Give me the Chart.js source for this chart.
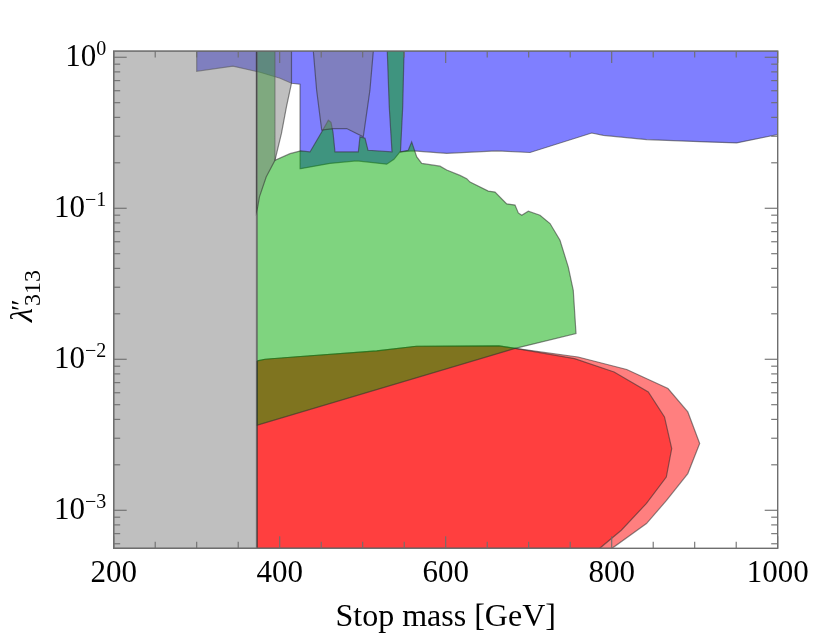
<!DOCTYPE html>
<html>
<head>
<meta charset="utf-8">
<script src="https://cdn.jsdelivr.net/npm/chart.js@4.4.1/dist/chart.umd.min.js"></script>
<style>
  html, body { margin: 0; padding: 0; background: #fff; }
  canvas { display: block; }
</style>
</head>
<body>
<canvas id="chart" width="830" height="641"></canvas>
<script>
// axis ranges and ticks
const massRange = [200, 1000];
const lambdaRange = [5.6e-4, 1.1];
const massTicks = [200, 400, 600, 800, 1000];
const lambdaTickExps = [0, -1, -2, -3];

// regions: stop mass [GeV] vs lambda''_313
const blueMass   = [300, 1000, 1000, 950.6, 914.4, 842.2, 789.9, 775.9, 701.6, 661.4, 601.2, 561.0, 544.9, 537.7, 528.9, 492.8, 460.6, 425.3, 424.5, 414.2, 400.4, 376.3, 343.7, 300, 300];
const blueLambda = [1.1, 1.1, 0.308, 0.271, 0.275, 0.285, 0.304, 0.315, 0.234, 0.240, 0.231, 0.240, 0.236, 0.211, 0.196, 0.206, 0.198, 0.183, 0.663, 0.673, 0.726, 0.796, 0.872, 0.808, 1.1];

const greenMass   = [373, 394.3, 394.3, 412.4, 425.3, 436.5, 450.6, 458.6, 461.8, 464.2, 466.6, 494.7, 496.7, 502.8, 506.4, 535.3, 532.0, 529.6, 549.8, 548.2, 545.5, 554.9, 559.0, 565.1, 571.1, 593.1, 601.2, 617.2, 625.3, 629.3, 651.3, 659.4, 673.5, 683.5, 687.5, 691.6, 699.5, 713.6, 725.7, 737.7, 747.7, 753.7, 757.0, 683.7, 373, 373];
const greenLambda = [1.1, 1.1, 0.208, 0.230, 0.240, 0.236, 0.320, 0.383, 0.371, 0.319, 0.236, 0.236, 0.297, 0.291, 0.242, 0.236, 0.469, 1.1, 1.1, 0.469, 0.236, 0.242, 0.275, 0.219, 0.198, 0.190, 0.179, 0.165, 0.157, 0.149, 0.130, 0.128, 0.107, 0.105, 0.0931, 0.0899, 0.0955, 0.0899, 0.0792, 0.0614, 0.0408, 0.0286, 0.0148, 0.0118, 0.00366, 1.1];

const redOuterMass   = [373, 382.5, 417.2, 516.9, 564.6, 664.2, 683.7, 759.5, 818.1, 867.8, 891.7, 906.0, 891.7, 865.8, 841.9, 800.4, 373, 373];
const redOuterLambda = [0.00975, 0.0100, 0.01035, 0.01135, 0.0122, 0.01225, 0.0118, 0.01035, 0.00855, 0.0064, 0.00448, 0.00277, 0.00175, 0.00116, 0.000817, 5.6e-4, 5.6e-4, 0.00975];

const redInnerMass   = [373, 382.5, 417.2, 516.9, 564.6, 664.2, 683.7, 755.2, 802.9, 844.1, 863.6, 872.3, 865.8, 841.9, 811.6, 785.5, 373, 373];
const redInnerLambda = [0.00975, 0.0100, 0.01035, 0.01135, 0.0122, 0.01225, 0.0118, 0.0101, 0.00824, 0.00607, 0.00415, 0.00256, 0.00166, 0.00111, 0.000738, 5.6e-4, 5.6e-4, 0.00975];

const grayMass   = [200, 372, 372, 200, 200];
const grayLambda = [1.1, 1.1, 5.6e-4, 5.6e-4, 1.1];

const graySliverMass   = [372, 414.2, 414.2, 408.1, 402.1, 394.3, 383.7, 375.6, 373.5, 372, 372];
const graySliverLambda = [1.1, 1.1, 0.673, 0.469, 0.313, 0.208, 0.161, 0.119, 0.102, 0.095, 1.1];

const grayUMass   = [440.5, 444.5, 450.6, 464.6, 480.7, 500.7, 508.7, 512.8, 440.5];
const grayULambda = [1.1, 0.605, 0.329, 0.337, 0.337, 0.297, 0.605, 1.1, 1.1];

const SERIF = '"Liberation Serif", "DejaVu Serif", serif';
const EDGE = 'rgba(45,45,45,0.55)';

function region(xs, ys, fillColor) {
    return {
        data: xs.map((m, i) => ({ x: m, y: ys[i] })),
        showLine: true,
        fill: 'shape',
        backgroundColor: fillColor,
        borderColor: EDGE,
        borderWidth: 1.2,
        pointRadius: 0,
        tension: 0
    };
}

// first dataset is drawn on top
const datasets = [
    region(grayUMass, grayULambda, 'rgba(128,128,128,0.5)'),
    region(graySliverMass, graySliverLambda, 'rgba(128,128,128,0.5)'),
    region(grayMass, grayLambda, 'rgba(128,128,128,0.5)'),
    region(greenMass, greenLambda, 'rgba(0,170,0,0.5)'),
    region(redInnerMass, redInnerLambda, 'rgba(255,0,0,0.5)'),
    region(redOuterMass, redOuterLambda, 'rgba(255,0,0,0.5)'),
    region(blueMass, blueLambda, 'rgba(0,0,255,0.5)')
];

function seg(ctx, x1, y1, x2, y2) {
    ctx.beginPath();
    ctx.moveTo(x1, y1);
    ctx.lineTo(x2, y2);
    ctx.stroke();
}

const framePlugin = {
    id: 'frame',
    afterDraw(chart) {
        const { ctx, chartArea: a } = chart;
        const xs = chart.scales.x, ys = chart.scales.y;
        ctx.save();
        ctx.strokeStyle = '#6e6e6e';
        ctx.lineWidth = 1.4;
        ctx.strokeRect(a.left, a.top, a.right - a.left, a.bottom - a.top);

        ctx.lineWidth = 1.1;
        for (let m = massRange[0]; m <= massRange[1]; m += 50) {
            const px = xs.getPixelForValue(m);
            const len = m % 200 === 0 ? 12 : 6.5;
            seg(ctx, px, a.bottom, px, a.bottom - len);
            seg(ctx, px, a.top, px, a.top + len);
        }
        for (let e = -4; e <= 0; e++) {
            for (let k = 1; k <= 9; k++) {
                const v = k * Math.pow(10, e);
                if (v < lambdaRange[0] || v > lambdaRange[1]) continue;
                const py = ys.getPixelForValue(v);
                const len = k === 1 ? 13 : 6.5;
                seg(ctx, a.left, py, a.left + len, py);
                seg(ctx, a.right, py, a.right - len, py);
            }
        }

        // tick labels
        ctx.fillStyle = '#000';
        ctx.font = '31px ' + SERIF;
        ctx.textAlign = 'center';
        ctx.textBaseline = 'alphabetic';
        massTicks.forEach(m => ctx.fillText(String(m), xs.getPixelForValue(m), 582));

        lambdaTickExps.forEach(e => {
            const py = ys.getPixelForValue(Math.pow(10, e));
            const sup = e < 0 ? '\u2212' + (-e) : String(e);
            ctx.font = '20px ' + SERIF;
            const supW = ctx.measureText(sup).width;
            ctx.textAlign = 'left';
            const right = a.left - 7.5;
            ctx.fillText(sup, right - supW, py - 2);
            ctx.font = '31px ' + SERIF;
            ctx.textAlign = 'right';
            ctx.fillText('10', right - supW, py + 9);
        });

        // axis titles
        ctx.font = '32px ' + SERIF;
        ctx.textAlign = 'center';
        ctx.fillText('Stop mass [GeV]', (a.left + a.right) / 2, 626);

        ctx.save();
        ctx.translate(32, 296);
        ctx.rotate(-Math.PI / 2);
        ctx.textAlign = 'left';
        ctx.font = 'italic 32px ' + SERIF;
        const lw = ctx.measureText('\u03bb').width;
        ctx.font = '24px ' + SERIF;
        const sw = ctx.measureText('313').width;
        const total = lw + 2 + sw;
        const x0 = -total / 2;
        ctx.font = 'italic 32px ' + SERIF;
        ctx.fillText('\u03bb', x0, 0);
        ctx.font = '28px ' + SERIF;
        ctx.fillText('\u2033', x0 + lw - 3, -2);
        ctx.font = '24px ' + SERIF;
        ctx.fillText('313', x0 + lw + 2, 8);
        ctx.restore();

        ctx.restore();
    }
};

new Chart(document.getElementById('chart'), {
    type: 'scatter',
    data: { datasets: datasets },
    options: {
        responsive: false,
        animation: false,
        devicePixelRatio: 1,
        layout: { padding: { left: 113.7, right: 52.3, top: 51, bottom: 92.7 } },
        plugins: { legend: { display: false }, tooltip: { enabled: false } },
        scales: {
            x: { type: 'linear', display: false, min: massRange[0], max: massRange[1] },
            y: { type: 'logarithmic', display: false, min: lambdaRange[0], max: lambdaRange[1] }
        }
    },
    plugins: [framePlugin]
});
</script>
</body>
</html>
